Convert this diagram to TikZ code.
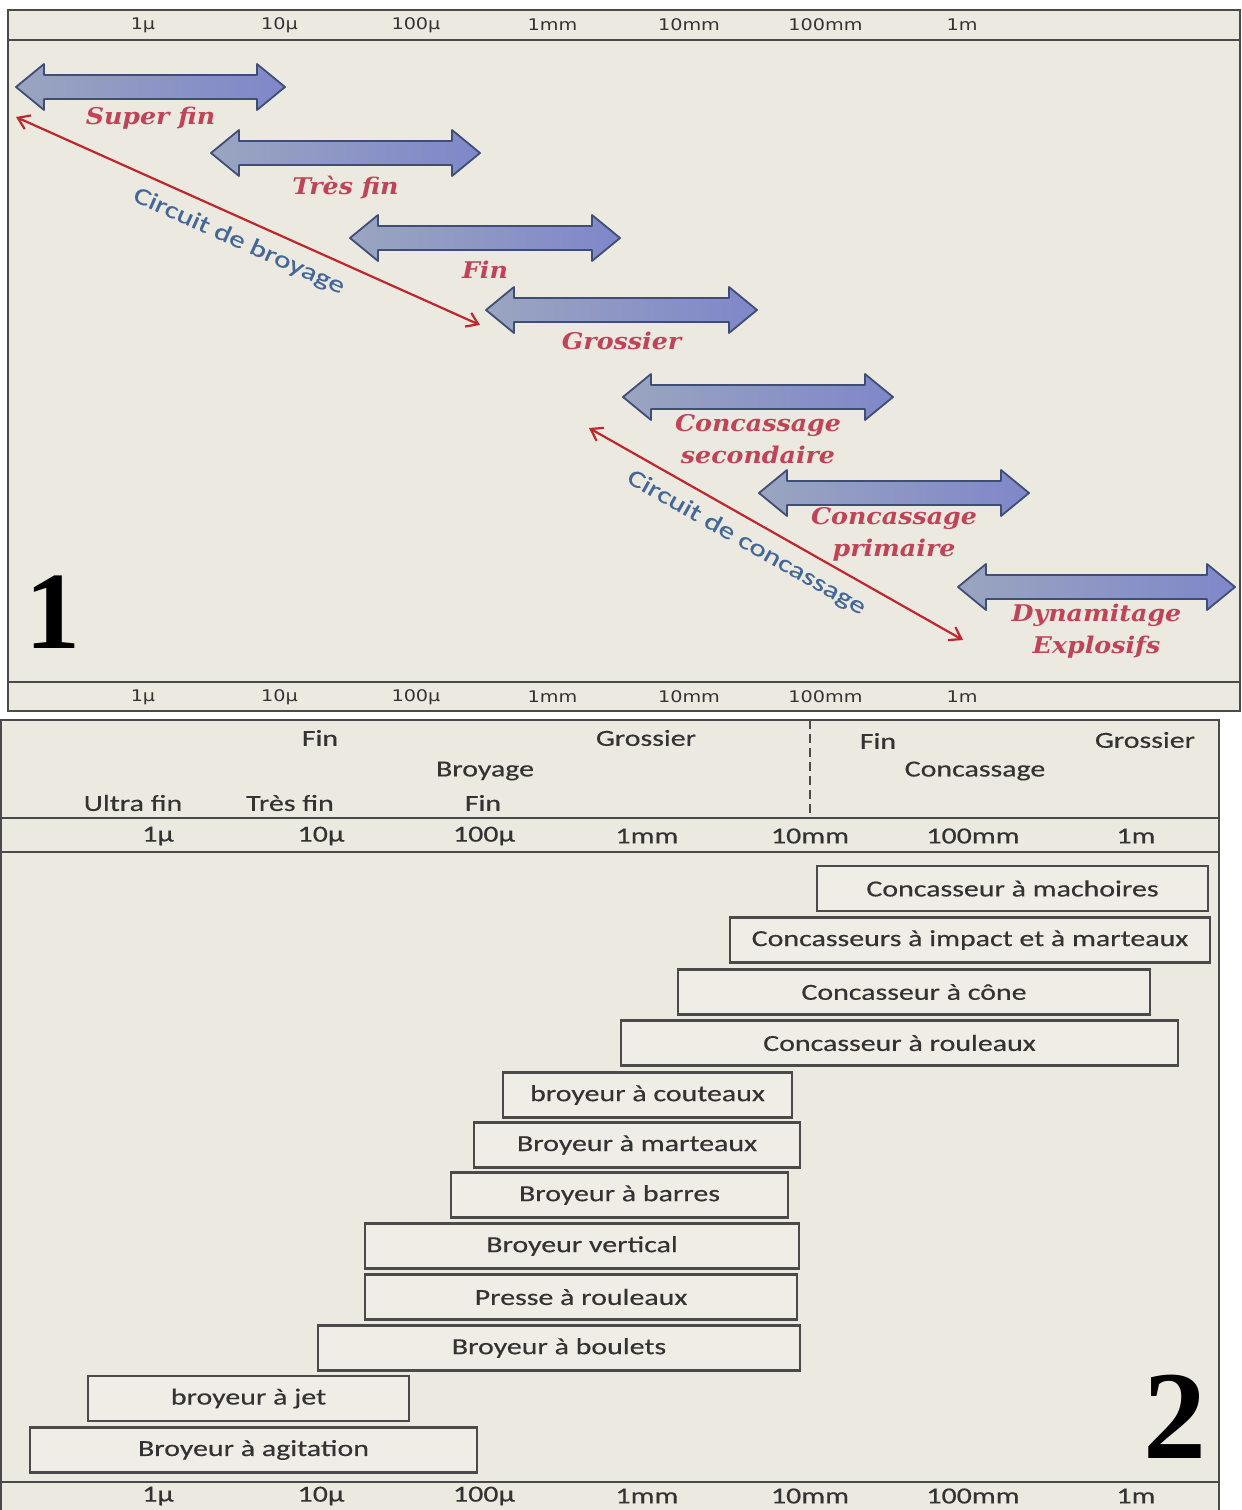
\documentclass[tikz,border=0pt]{standalone}
\usepackage{fontspec}
\usetikzlibrary{arrows.meta}
\newfontfamily\scaletxt[FakeStretch=1.2]{DejaVu Sans}
\newfontfamily\stagetxt[FakeStretch=1.1]{DejaVu Serif}
\newfontfamily\boxtxt[FakeStretch=1.3,FakeBold=0.4]{Carlito}
\newfontfamily\bignum{Liberation Serif}
\definecolor{panelbg}{HTML}{ECE9E0}
\definecolor{boxbg}{HTML}{EFEDE6}
\definecolor{framegray}{HTML}{4A4A4A}
\definecolor{textgray}{HTML}{333333}
\definecolor{arrowline}{HTML}{3E4E74}
\definecolor{arrowL}{HTML}{9AA5C0}
\definecolor{arrowM}{HTML}{E4E9FF}
\definecolor{arrowR}{HTML}{7F87C9}
\definecolor{stagered}{HTML}{C04458}
\definecolor{circred}{HTML}{C0272D}
\definecolor{circblue}{HTML}{44679A}
\tikzset{
  panelframe/.style={draw=framegray, line width=2pt},
  fatarrow/.style={draw=arrowline, line width=1.8pt, line join=round,
    left color=arrowL, middle color=arrowM, right color=arrowR},
  stagelabel/.style={text=stagered, inner sep=0pt, align=center,
    font=\stagetxt\bfseries\itshape\fontsize{23}{32}\selectfont},
  circuit/.style={<->, >={Straight Barb[length=11pt,width=15pt]}, draw=circred, line width=2.2pt},
  circuitlabel/.style={text=circblue, sloped, below=11pt, inner sep=0pt,
    font=\boxtxt\fontsize{24}{28}\selectfont},
  scalelabel/.style={text=textgray, inner sep=0pt, font=\scaletxt\fontsize{16}{18}\selectfont},
  headlabel/.style={text=textgray, inner sep=0pt, font=\boxtxt\fontsize{23}{27}\selectfont},
  machine/.style={draw=framegray, line width=2.4pt, fill=boxbg, minimum height=45,
    inner sep=0pt, text=textgray, font=\boxtxt\fontsize{23}{27}\selectfont},
  bignumber/.style={inner sep=0pt, font=\bignum\bfseries\fontsize{#1}{#1}\selectfont}
}

\begin{document}
\begin{tikzpicture}[x=1pt, y=-1pt]
\useasboundingbox (0,0) rectangle (1242,1510);

\begin{scope}
\fill[panelbg] (8,10) rectangle (1240,711);
\draw[panelframe] (8,10) rectangle (1240,711);
\draw[panelframe] (8,40) -- (1240,40);
\draw[panelframe] (8,682) -- (1240,682);
\foreach \lab [count=\i from 0] in {1µ,10µ,100µ,1mm,10mm,100mm,1m}
{\node[scalelabel] (topscale\i) at (143+136.5*\i,25) {\lab};
\node[scalelabel] (botscale\i) at (143+136.5*\i,697) {\lab};}
\foreach \xa/\xb/\yc/\dy/\lab [count=\i] in
  {16/285/87/31/{Super fin}, 211/480/153/34/{Très fin}, 350/620/238/32/Fin,
   486/757/310/31/Grossier, 623/893/397/42/{Concassage\\secondaire},
   759/1029/493/41/{Concassage\\primaire}, 958/1235/587/44/{Dynamitage\\Explosifs}}
{\draw[fatarrow] (\xa,\yc) -- (\xa+28,\yc-23) -- (\xa+28,\yc-12) -- (\xb-28,\yc-12)
  -- (\xb-28,\yc-23) -- (\xb,\yc) -- (\xb-28,\yc+23) -- (\xb-28,\yc+12)
  -- (\xa+28,\yc+12) -- (\xa+28,\yc+23) -- cycle;
\node[stagelabel] (stage\i) at ({(\xa+\xb)/2},\yc+\dy) {\lab};}
\coordinate (grindA) at (16,117);
\coordinate (grindB) at (480,325);
\coordinate (crushA) at (589,428);
\coordinate (crushB) at (963,640);
\draw[circuit] (grindA) -- node[circuitlabel, pos=.5] (grindlabel) {Circuit de broyage} (grindB);
\draw[circuit] (crushA) -- node[circuitlabel, pos=.45] (crushlabel) {Circuit de concassage} (crushB);
\node[bignumber=110, anchor=base] (panelone) at (53,648) {1};
\end{scope}

\begin{scope}
\fill[panelbg] (1,720) rectangle (1219,1512);
\draw[panelframe] (1,1512) |- (1219,720) -- (1219,1512);
\draw[panelframe] (1,818) -- (1219,818);
\draw[panelframe] (1,852) -- (1219,852);
\draw[panelframe] (1,1482) -- (1219,1482);
\draw[panelframe, line width=1.4pt, dash pattern=on 9pt off 5pt] (810,720) -- (810,818);
\node[headlabel] (finA) at (320,738) {Fin};
\node[headlabel] (grosA) at (646,738) {Grossier};
\node[headlabel] (broyage) at (485,771) {Broyage};
\node[headlabel] (ultrafin) at (133,803) {Ultra fin};
\node[headlabel] (tresfin) at (290,803) {Très fin};
\node[headlabel] (finB) at (483,803) {Fin};
\node[headlabel] (finC) at (878,741) {Fin};
\node[headlabel] (grosC) at (1145,740) {Grossier};
\node[headlabel] (concassage) at (975,771) {Concassage};
\foreach \lab [count=\i from 0] in {1µ,10µ,100µ,1mm,10mm,100mm,1m}
{\node[headlabel] (midscale\i) at (158+163*\i,836) {\lab};
\node[headlabel] (lowscale\i) at (158+163*\i,1496) {\lab};}
\foreach \cx/\cy/\w/\lab [count=\i] in
  {1012.5/888.5/391/Concasseur à machoires,
   970/940/480/Concasseurs à impact et à marteaux,
   914/992/472/Concasseur à cône,
   899.5/1043/557/Concasseur à rouleaux,
   647.5/1095/289/broyeur à couteaux,
   637/1145/326/Broyeur à marteaux,
   619.5/1195/337/Broyeur à barres,
   582/1246/434/Broyeur vertical,
   581/1297/432/Presse à rouleaux,
   559/1348/482/Broyeur à boulets,
   248.5/1398.5/321/broyeur à jet,
   253.5/1450/447/Broyeur à agitation}
\node[machine, minimum width=\w] (mill\i) at (\cx,\cy) {\lab};
\node[bignumber=126, anchor=base] (paneltwo) at (1175,1458) {2};
\end{scope}

\end{tikzpicture}
\end{document}
